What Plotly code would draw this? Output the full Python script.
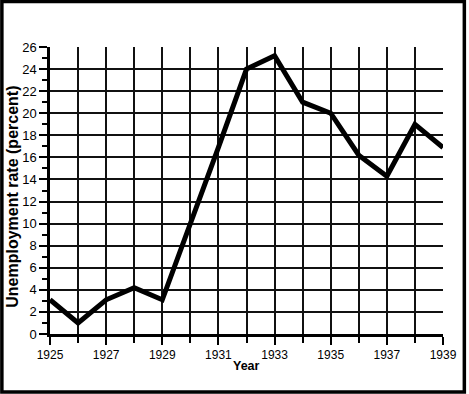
import plotly.graph_objects as go

years = [1925, 1926, 1927, 1928, 1929, 1930, 1931, 1932, 1933, 1934, 1935, 1936, 1937, 1938, 1939]
unemployment = [3.1, 1.0, 3.1, 4.2, 3.1, 9.9, 16.9, 24.0, 25.2, 21.0, 20.0, 16.2, 14.3, 19.0, 16.9]
x_tick_vals = [1925, 1927, 1929, 1931, 1933, 1935, 1937, 1939]
y_tick_vals = [0, 2, 4, 6, 8, 10, 12, 14, 16, 18, 20, 22, 24, 26]

W, H = 469, 394
L, R, T, B = 50, 23, 47, 60
pw, ph = W - L - R, H - T - B

fig = go.Figure()
fig.add_trace(go.Scatter(
    x=years, y=unemployment, mode="lines",
    line=dict(color="black", width=5),
    hoverinfo="skip", showlegend=False,
))

fig.update_layout(
    width=W, height=H,
    margin=dict(l=L, r=R, t=T, b=B),
    paper_bgcolor="white", plot_bgcolor="white",
    font=dict(family="Liberation Sans, Arial, sans-serif", color="black"),
    xaxis=dict(
        range=[1925, 1939], tickvals=x_tick_vals,
        ticks="outside", ticklen=8, tickwidth=2, tickcolor="black",
        showgrid=True, gridcolor="#111", gridwidth=1.5,
        showline=True, linecolor="black", linewidth=2.5,
        zeroline=False, tickfont=dict(size=12),
        minor=dict(dtick=1, tick0=1925, ticks="outside", ticklen=6, tickwidth=2,
                   tickcolor="black", showgrid=True, gridcolor="#111", gridwidth=1.5),
    ),
    yaxis=dict(
        range=[0, 26], tickvals=y_tick_vals,
        ticks="outside", ticklen=8, tickwidth=2, tickcolor="black",
        showgrid=True, gridcolor="#111", gridwidth=1.5,
        showline=True, linecolor="black", linewidth=2.5,
        zeroline=False, tickfont=dict(size=13),
        minor=dict(dtick=1, tick0=0, ticks="outside", ticklen=5, tickwidth=2,
                   tickcolor="black", showgrid=False),
    ),
    annotations=[
        dict(text="<b>Unemployment rate (percent)</b>", textangle=-90,
             xref="paper", yref="paper", x=-(L - 12.5) / pw, y=(H - B - 197) / ph,
             xanchor="center", yanchor="middle", showarrow=False,
             font=dict(size=16)),
        dict(text="<b>Year</b>", xref="paper", yref="paper",
             x=0.5, y=-(366 - (H - B)) / ph, xanchor="center", yanchor="middle",
             showarrow=False, font=dict(size=12.5)),
    ],
    shapes=[
        dict(type="rect", xref="paper", yref="paper",
             x0=-(L - 1.5) / pw, x1=1 + (R - 1.5) / pw,
             y0=-(B - 2) / ph, y1=1 + (T - 1.5) / ph,
             line=dict(color="black", width=3.5), fillcolor="rgba(0,0,0,0)"),
    ],
)

fig.write_html("out.html")
